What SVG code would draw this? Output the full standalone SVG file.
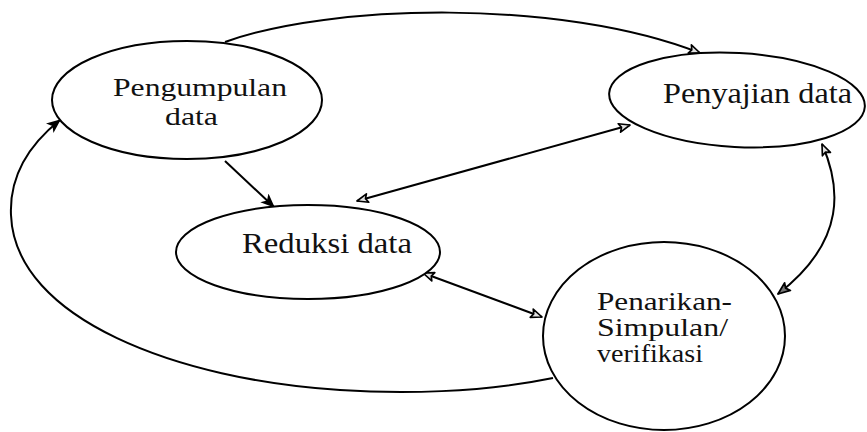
<svg xmlns="http://www.w3.org/2000/svg" width="867" height="432" viewBox="0 0 867 432">
  <style>
    .node { fill: #ffffff; stroke: #000000; stroke-width: 2; }
    .label { font-family: "Liberation Serif", "Times New Roman", serif; font-size: 29px; fill: #111111; }
    .small { font-size: 25px; }
    .edge { fill: none; stroke: #000000; stroke-width: 2; }
  </style>
  <defs>
    <marker id="head-solid" viewBox="0 0 12 10" refX="11" refY="5" markerWidth="16" markerHeight="12" markerUnits="userSpaceOnUse" orient="auto-start-reverse">
      <path d="M0,0 L12,5 L0,10 L3,5 z" fill="#000000"/>
    </marker>
    <marker id="head-open" viewBox="0 0 12 10" refX="11" refY="5" markerWidth="14" markerHeight="11" markerUnits="userSpaceOnUse" orient="auto-start-reverse">
      <path d="M1,1 L11,5 L1,9 L3,5 z" fill="#e2e2e2" stroke="#000000" stroke-width="1.5" stroke-linejoin="round"/>
    </marker>
    <marker id="head-grey" viewBox="0 0 12 10" refX="11" refY="5" markerWidth="15" markerHeight="12" markerUnits="userSpaceOnUse" orient="auto-start-reverse">
      <path d="M1,1 L11,5 L1,9 L3,5 z" fill="#777777" stroke="#000000" stroke-width="1.5" stroke-linejoin="round"/>
    </marker>
  </defs>

  <rect width="867" height="432" fill="#ffffff"/>

  <!-- connectors -->
  <g id="connectors">
    <!-- Pengumpulan data -> Penyajian data (top arc) -->
    <path class="edge" d="M225,42 C330,4 560,-2 700,53" marker-end="url(#head-open)"/>
    <!-- Pengumpulan data -> Reduksi data -->
    <path class="edge" d="M225,161 L274,207" marker-end="url(#head-solid)"/>
    <!-- Reduksi data <-> Penyajian data -->
    <path class="edge" d="M357,201 L630,125" marker-start="url(#head-open)" marker-end="url(#head-open)"/>
    <!-- Reduksi data <-> Penarikan kesimpulan -->
    <path class="edge" d="M423,273 L542,317" marker-start="url(#head-open)" marker-end="url(#head-open)"/>
    <!-- Penyajian data <-> Penarikan kesimpulan -->
    <path class="edge" d="M822,144 C840,185 848,240 778,294" marker-start="url(#head-open)" marker-end="url(#head-grey)"/>
    <!-- Penarikan kesimpulan -> Pengumpulan data (outer loop) -->
    <path class="edge" d="M553,378 C480,393 400,394 340,390 C180,380 15,320 11,215 C9,170 35,140 60,120" marker-end="url(#head-solid)"/>
  </g>

  <!-- nodes -->
  <g id="pengumpulan">
    <ellipse class="node" cx="187" cy="100" rx="135" ry="59"/>
    <text class="label small" x="113" y="96" textLength="174" lengthAdjust="spacingAndGlyphs">Pengumpulan</text>
    <text class="label small" x="165" y="125" textLength="53" lengthAdjust="spacingAndGlyphs">data</text>
  </g>

  <g id="penyajian">
    <ellipse class="node" cx="737" cy="100" rx="128" ry="47" transform="rotate(3 737 100)"/>
    <text class="label" x="663" y="103" textLength="189" lengthAdjust="spacingAndGlyphs">Penyajian data</text>
  </g>

  <g id="reduksi">
    <ellipse class="node" cx="308" cy="252" rx="132" ry="47"/>
    <text class="label" x="242" y="253" textLength="170" lengthAdjust="spacingAndGlyphs">Reduksi data</text>
  </g>

  <g id="penarikan">
    <ellipse class="node" cx="664" cy="336" rx="121" ry="94"/>
    <text class="label small" x="597" y="310" textLength="135" lengthAdjust="spacingAndGlyphs">Penarikan-</text>
    <text class="label small" x="597" y="336" textLength="131" lengthAdjust="spacingAndGlyphs">Simpulan/</text>
    <text class="label small" x="597" y="362" textLength="106" lengthAdjust="spacingAndGlyphs">verifikasi</text>
  </g>
</svg>
